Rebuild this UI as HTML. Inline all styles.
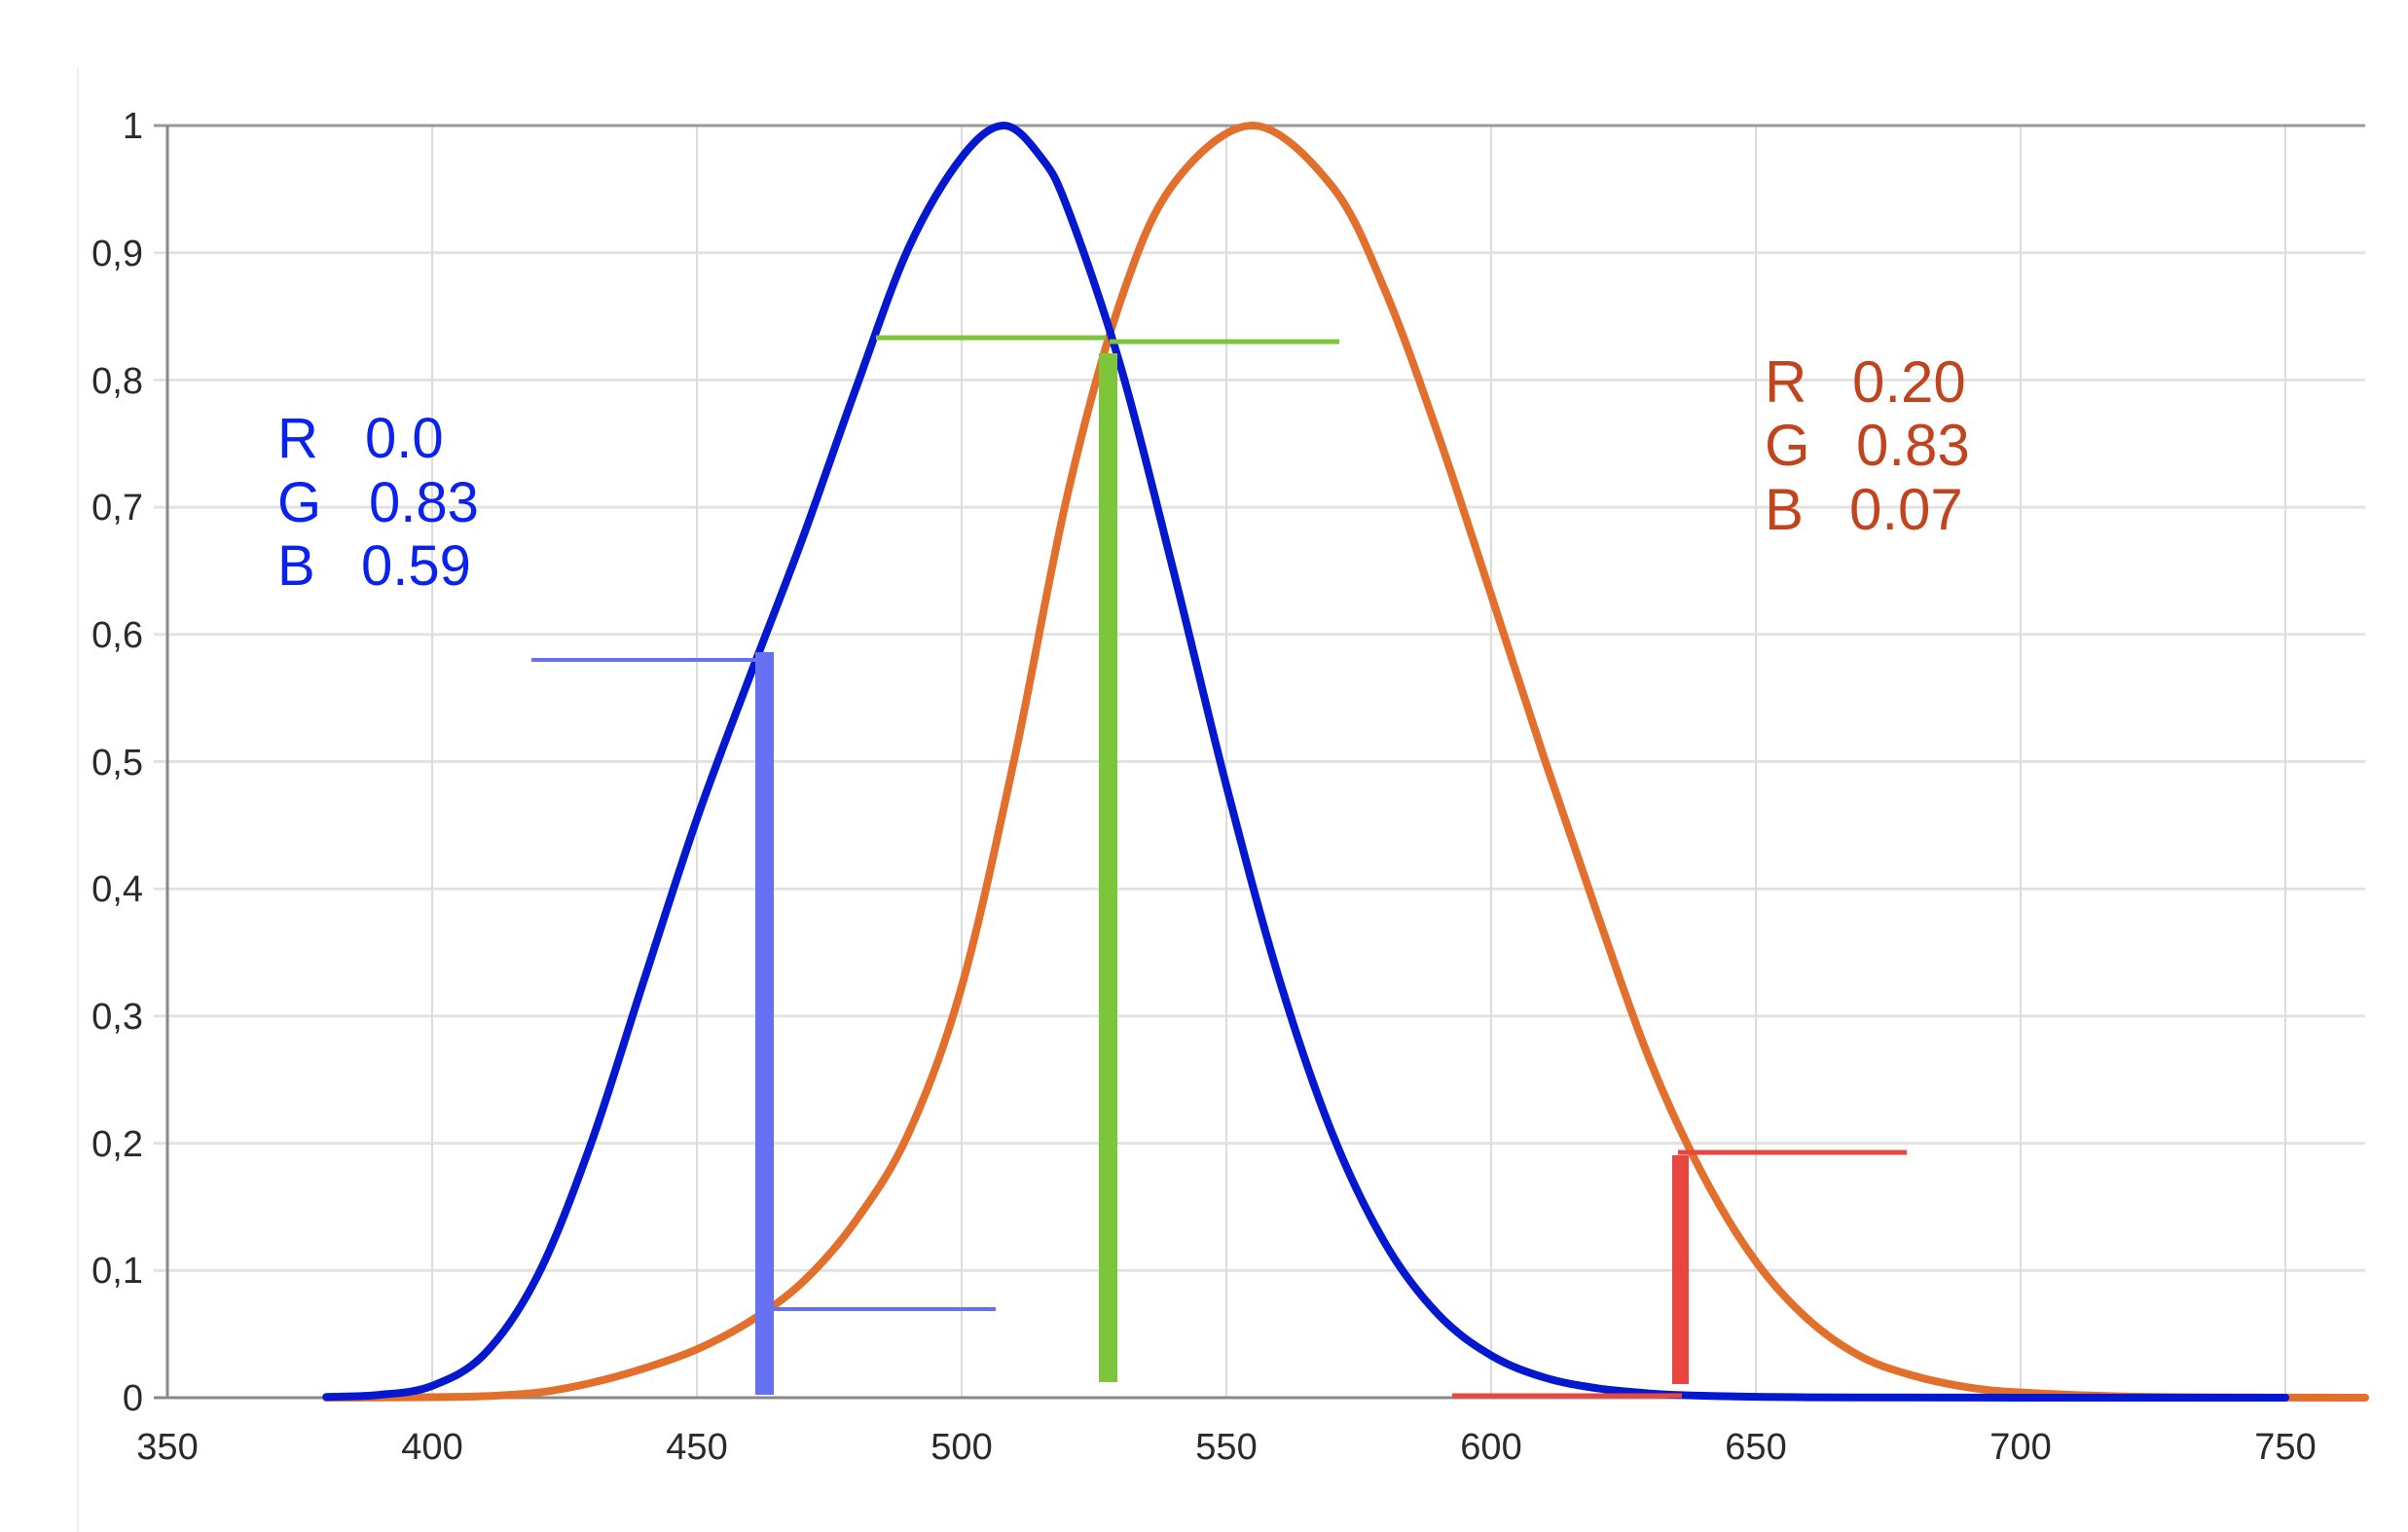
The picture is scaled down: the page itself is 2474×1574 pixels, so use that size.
<!DOCTYPE html>
<html><head><meta charset="utf-8"><style>
html,body{margin:0;padding:0;background:#fff;}
svg{display:block;}
text{font-family:"Liberation Sans",sans-serif;}
</style></head><body>
<svg id="s" width="2474" height="1574" viewBox="0 0 2474 1574" xmlns="http://www.w3.org/2000/svg">
<rect width="2474" height="1574" fill="#fff"/>
<line x1="80" y1="70" x2="80" y2="1574" stroke="#eeeeee" stroke-width="2"/>
<g id="grid"></g>
<g font-size="38" fill="#2a2a2a" text-anchor="end" id="ylab">
<text x="147" y="142">1</text>
<text x="147" y="273">0,9</text>
<text x="147" y="404">0,8</text>
<text x="147" y="534">0,7</text>
<text x="147" y="665">0,6</text>
<text x="147" y="796">0,5</text>
<text x="147" y="926">0,4</text>
<text x="147" y="1057">0,3</text>
<text x="147" y="1188">0,2</text>
<text x="147" y="1318">0,1</text>
<text x="147" y="1449">0</text>
</g>
<g font-size="38" fill="#2a2a2a" text-anchor="middle">
<text x="172" y="1499">350</text>
<text x="444" y="1499">400</text>
<text x="716" y="1499">450</text>
<text x="988" y="1499">500</text>
<text x="1260" y="1499">550</text>
<text x="1532" y="1499">600</text>
<text x="1804" y="1499">650</text>
<text x="2076" y="1499">700</text>
<text x="2348" y="1499">750</text>
</g>
<path id="orange" fill="none" stroke="#e2702c" stroke-width="8" stroke-linejoin="round" stroke-linecap="round"/>
<path id="blue" fill="none" stroke="#0418d0" stroke-width="8" stroke-linejoin="round" stroke-linecap="round"/>
<rect x="776" y="670" width="19" height="763" fill="#6670f2"/>
<line x1="546" y1="678" x2="790" y2="678" stroke="#6670f2" stroke-width="4"/>
<line x1="790" y1="1345" x2="1023" y2="1345" stroke="#6670f2" stroke-width="4"/>
<rect x="1129" y="363" width="19" height="1057" fill="#7dc63c"/>
<line x1="900" y1="347" x2="1136" y2="347" stroke="#7dc63c" stroke-width="5"/>
<line x1="1140" y1="351" x2="1376" y2="351" stroke="#7dc63c" stroke-width="5"/>
<rect x="1718" y="1187" width="17" height="235" fill="#e8473f"/>
<line x1="1724" y1="1184" x2="1959" y2="1184" stroke="#e8473f" stroke-width="5"/>
<line x1="1492" y1="1434" x2="1728" y2="1434" stroke="#e8473f" stroke-width="5"/>
<g font-size="58" fill="#0a22ee">
<text x="285" y="470">R</text><text x="375" y="470">0.0</text>
<text x="285" y="536">G</text><text x="379" y="536">0.83</text>
<text x="285" y="601">B</text><text x="371" y="601">0.59</text>
</g>
<g font-size="60" fill="#c0441e">
<text x="1813" y="413">R</text><text x="1903" y="413">0.20</text>
<text x="1813" y="478">G</text><text x="1907" y="478">0.83</text>
<text x="1813" y="544">B</text><text x="1900" y="544">0.07</text>
</g>
</svg>
<script>
(function(){
var X=function(l){return 172+(l-350)*5.44;}, Y=function(v){return 1436-v*1307;};
var g=document.getElementById('grid'), h='';
for(var i=1;i<10;i++){var y=Y(i/10);h+='<line x1="158" y1="'+y+'" x2="2430" y2="'+y+'" stroke="#e2e2e2" stroke-width="3"/>';}
for(var l=400;l<=750;l+=50){h+='<line x1="'+X(l)+'" y1="129" x2="'+X(l)+'" y2="1436" stroke="#dcdcdc" stroke-width="2"/>';}
h+='<line x1="158" y1="129" x2="2430" y2="129" stroke="#999" stroke-width="3"/>';
h+='<line x1="158" y1="1436" x2="2430" y2="1436" stroke="#888" stroke-width="3"/>';
h+='<line x1="172" y1="129" x2="172" y2="1436" stroke="#888" stroke-width="3"/>';
g.innerHTML=h;
function path(pts){
 var p=pts.map(function(a){return [X(a[0]),Y(a[1])];});
 var d='M'+p[0][0]+','+p[0][1];
 for(var i=0;i<p.length-1;i++){
  var p0=p[i-1]||p[i],p1=p[i],p2=p[i+1],p3=p[i+2]||p2;
  var c1=[p1[0]+(p2[0]-p0[0])/6,p1[1]+(p2[1]-p0[1])/6],c2=[p2[0]-(p3[0]-p1[0])/6,p2[1]-(p3[1]-p1[1])/6];
  d+=' C'+c1[0]+','+c1[1]+' '+c2[0]+','+c2[1]+' '+p2[0]+','+p2[1];
 }
 return d;
}
var blue=[[380,0.0006],[390,0.0022],[400,0.0093],[410,0.0348],[420,0.0966],[430,0.1998],[440,0.3281],[450,0.455],[460,0.567],[470,0.676],[480,0.793],[490,0.904],[500,0.975],[508,1.0],[515,0.975],[520,0.935],[530,0.811],[540,0.65],[550,0.481],[560,0.3288],[570,0.2076],[580,0.1212],[590,0.0655],[600,0.0332],[610,0.0159],[620,0.0074],[630,0.0033],[640,0.0015],[660,0.0003],[700,0],[750,0]];
var orange=[[380,0],[400,0.0004],[410,0.0012],[420,0.004],[430,0.0116],[440,0.023],[450,0.038],[460,0.06],[470,0.091],[480,0.139],[490,0.208],[500,0.323],[510,0.503],[520,0.71],[530,0.862],[540,0.954],[555,1.0],[570,0.952],[580,0.87],[590,0.757],[600,0.631],[610,0.503],[620,0.381],[630,0.265],[640,0.175],[650,0.107],[660,0.061],[670,0.032],[680,0.017],[690,0.0082],[700,0.0041],[720,0.001],[750,0.0001],[765,0]];
document.getElementById('blue').setAttribute('d',path(blue));
document.getElementById('orange').setAttribute('d',path(orange)+' L2430,1436');
})();
</script>
</body></html>
